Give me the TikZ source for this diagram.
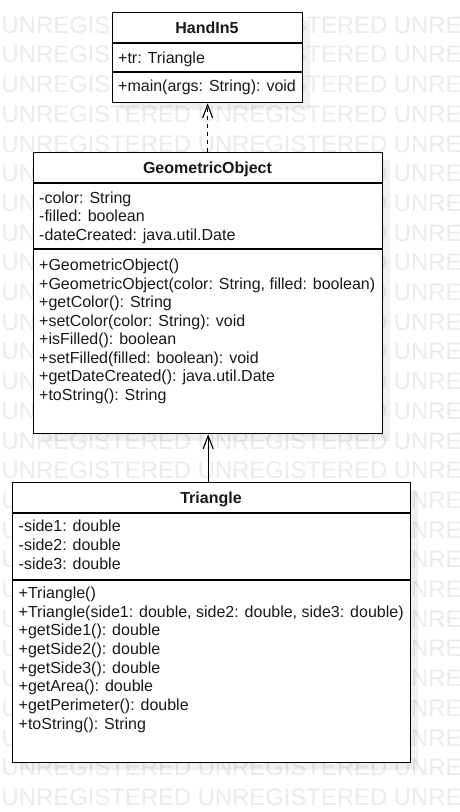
\documentclass[tikz,border=0pt]{standalone}
\usepackage{fontspec}
\setmainfont{Liberation Sans}
\usetikzlibrary{arrows.meta}
\begin{document}
\begin{tikzpicture}[x=1pt,y=-1pt,
  wm/.style={anchor=west, inner sep=0pt, text=black!8, font=\fontsize{23.85}{26}\selectfont},
  classbox/.style={draw=black, line width=1.3pt, fill=white, inner sep=0pt, anchor=north west},
  shadowbox/.style={fill=black, opacity=0.06},
  seprule/.style={draw=black, line width=1.3pt},
  member/.style={anchor=west, inner sep=0pt, text height=12pt, text depth=4pt, font=\fontsize{16}{19}\selectfont, text=black!90},
  classtitle/.style={anchor=center, inner sep=0pt, text height=11.5pt, text depth=0pt, font=\bfseries\fontsize{16}{19}\selectfont, text=black!90},
  conn/.style={line width=1.1pt, -{Straight Barb[length=13pt,width=10pt,line width=1.1pt]}}
]
\useasboundingbox (0,0) rectangle (460,812);
\fill[white] (0,0) rectangle (460,812);
% watermark
\foreach \k in {0,...,26}{
  \node[wm] (wm\k) at (1.5,{25+29.7*\k}) {UNREGISTERED UNREGISTERED UNREGISTERED};
}
% shadows
\fill[shadowbox] (120,20) rectangle (310,110);
\fill[shadowbox] (41,160) rectangle (390,441);
\fill[shadowbox] (20,490) rectangle (418,770);
% boxes
\node[classbox, minimum width=190pt, minimum height=90pt] (hand) at (112,12) {};
\node[classbox, minimum width=349pt, minimum height=281pt] (geo) at (33,152) {};
\node[classbox, minimum width=398pt, minimum height=280pt] (tri) at (12,482) {};
% separators
\draw[seprule] (112,43) -- (302,43);
\draw[seprule] (112,72) -- (302,72);
\draw[seprule] (33,183) -- (382,183);
\draw[seprule] (33,249) -- (382,249);
\draw[seprule] (12,513) -- (410,513);
\draw[seprule] (12,580) -- (410,580);
% titles
\node[classtitle] (handT) at (207,27.5) {HandIn5};
\node[classtitle] (geoT) at (207.5,167.5) {GeometricObject};
\node[classtitle] (triT) at (211,497.7) {Triangle};
% HandIn5 members
\node[member] (handA1) at (118,59) {+tr: Triangle};
\node[member] (handM1) at (118,87.5) {+main(args: String): void};
% GeometricObject members
\foreach \t [count=\i] in {-color: String,-filled: boolean,-dateCreated: java.util.Date}{
  \node[member] (geoA\i) at (39,{180.5+18.7*\i}) {\t};
}
\foreach \t [count=\i] in {+GeometricObject(),{+GeometricObject(color: String, filled: boolean)},+getColor(): String,+setColor(color: String): void,+isFilled(): boolean,+setFilled(filled: boolean): void,+getDateCreated(): java.util.Date,+toString(): String}{
  \node[member] (geoM\i) at (39,{248+18.5*\i}) {\t};
}
% Triangle members
\foreach \t [count=\i] in {-side1: double,-side2: double,-side3: double}{
  \node[member] (triA\i) at (18.5,{509+18.7*\i}) {\t};
}
\foreach \t [count=\i] in {+Triangle(),{+Triangle(side1: double, side2: double, side3: double)},+getSide1(): double,+getSide2(): double,+getSide3(): double,+getArea(): double,+getPerimeter(): double,+toString(): String}{
  \node[member] (triM\i) at (18.5,{575.6+18.7*\i}) {\t};
}
% connectors
\draw[conn, dash pattern=on 4pt off 4pt] (geo.north -| hand.south) -- (hand.south);
\draw[conn] (tri.north -| geo.south) -- (geo.south);
\end{tikzpicture}
\end{document}
